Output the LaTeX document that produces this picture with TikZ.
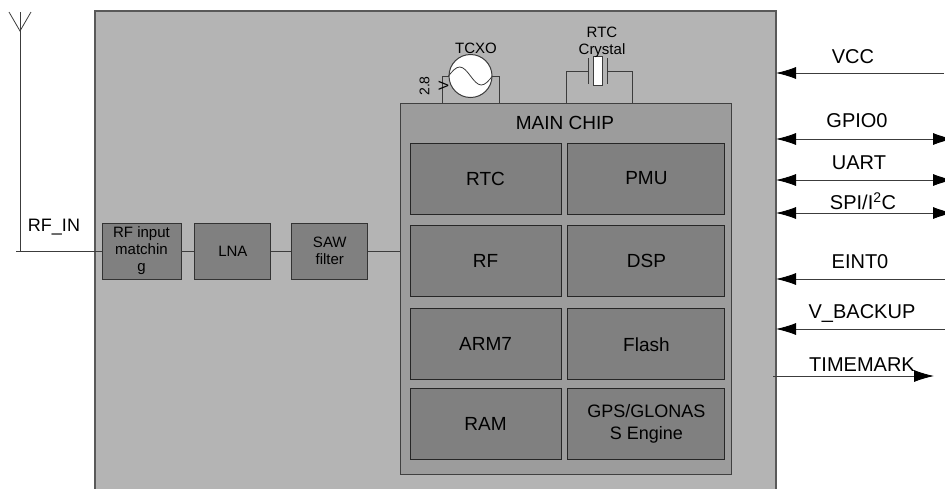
\documentclass[tikz,border=0pt]{standalone}
\usepackage{fontspec}
\setmainfont{Liberation Sans}
\usetikzlibrary{positioning,arrows.meta}

\definecolor{boardgray}{HTML}{B4B4B4}
\definecolor{chipgray}{HTML}{9C9C9C}
\definecolor{blockgray}{HTML}{808080}
\definecolor{wiregray}{HTML}{3C3C3C}

\tikzset{
    board/.style={draw=black!65, fill=boardgray, line width=1.2pt},
    chipbox/.style={draw=black!75, fill=chipgray, line width=1pt, minimum width=331pt, minimum height=371pt, inner sep=0pt},
    block/.style={draw=black!85, fill=blockgray, line width=0.9pt, minimum height=71pt, inner sep=0pt, align=center, font=\fontsize{19}{22}\selectfont},
    rfblock/.style={draw=black!80, fill=blockgray, line width=0.9pt, minimum width=76pt, minimum height=56pt, inner sep=0pt, align=center, font=\fontsize{15}{17}\selectfont},
    wire/.style={draw=wiregray, line width=0.8pt},
    pinlabel/.style={font=\fontsize{20}{22}\selectfont},
    smalllabel/.style={font=\fontsize{15}{17}\selectfont, align=center, inner sep=0pt},
    sigin/.style={wire, -{Latex[length=20pt,width=12pt,color=black]}},
    sigboth/.style={wire, {Latex[length=20pt,width=12pt,color=black]}-{Latex[length=20pt,width=12pt,color=black]}}
}

\begin{document}
\begin{tikzpicture}[x=1pt, y=-1pt]
    \useasboundingbox (0,0) rectangle (945,488);

    % module outline
    \draw[board] (95,11) rectangle (776,500);

    % antenna and RF input
    \coordinate (ant) at (20,12);
    \coordinate (rfin) at (16,251);
    \draw[wire] (9,12) -- (20,31) -- (31,12);
    \draw[wire] (ant) -- (20,251);
    \node[pinlabel, font=\fontsize{18}{20}\selectfont] (rfinlabel) at (54,227) {RF\_IN};

    \node[rfblock, minimum width=79pt] (match) at (141.5,251) {RF input\\matchin\\g};
    \node[rfblock, right = 13pt of match] (lna) {LNA};
    \node[rfblock, right = 20pt of lna] (saw) {SAW\\filter};

    % main chip
    \node[chipbox] (chip) at (565.5,288.5) {};
    \node[font=\fontsize{19}{22}\selectfont] (chiptitle) at (565,123) {MAIN CHIP};

    \node[block, minimum width=151pt] (rtc) at (485.5,178.5) {RTC};
    \node[block, minimum width=157pt, right = 6pt of rtc] (pmu) {PMU};
    \node[block, minimum width=151pt, below = 11pt of rtc] (rf) {RF};
    \node[block, minimum width=157pt, right = 6pt of rf] (dsp) {DSP};
    \node[block, minimum width=151pt, below = 11pt of rf] (arm) {ARM7};
    \node[block, minimum width=157pt, right = 6pt of arm] (flash) {Flash};
    \node[block, minimum width=151pt, below = 8pt of arm] (ram) {RAM};
    \node[block, minimum width=157pt, right = 6pt of ram, font=\fontsize{18}{22}\selectfont] (gnss) {GPS/GLONAS\\S Engine};

    \draw[wire] (rfin) -- (match.west);
    \draw[wire] (match) -- (lna);
    \draw[wire] (lna) -- (saw);
    \draw[wire] (saw.east) -- (saw.east -| chip.west);

    % TCXO
    \coordinate (tcxoL) at (442,103);
    \coordinate (tcxoR) at (499,103);
    \draw[wire] (tcxoL) -- (442,76) -- (499,76) -- (tcxoR);
    \node[circle, draw=wiregray, fill=white, line width=1pt, minimum size=43pt, inner sep=0pt] (tcxo) at (470.5,76) {};
    \draw[wire] (tcxo.west) sin (459.75,67) cos (470.5,76) sin (481.25,85) cos (tcxo.east);
    \node[smalllabel] (tcxolabel) at (476,48) {TCXO};
    \node[smalllabel, rotate=90, font=\fontsize{14}{19}\selectfont] (vlabel) at (434,86) {2.8\\V};

    % RTC crystal
    \coordinate (xtalL) at (566,103);
    \coordinate (xtalR) at (632,103);
    \draw[wire] (xtalL) -- (566,71) -- (588,71);
    \draw[wire] (607,71) -- (632,71) -- (xtalR);
    \draw[wire, line width=1pt] (588,58) -- (588,84);
    \draw[wire, line width=1pt] (607,58) -- (607,84);
    \node[draw=wiregray, fill=white, line width=0.8pt, minimum width=9pt, minimum height=29pt, inner sep=0pt] (xtal) at (597.5,70.5) {};
    \node[smalllabel] (xtallabel) at (602,42) {RTC\\Crystal};

    % pins
    \coordinate (vccR) at (944,73);
    \coordinate (gpioR) at (953,139);
    \coordinate (uartR) at (953,180);
    \coordinate (spiR) at (953,213);
    \coordinate (eintR) at (945,279);
    \coordinate (vbakR) at (945,329);
    \coordinate (tmR) at (934,376);
    \coordinate (tmL) at (773,376);

    \draw[sigin] (vccR) -- (vccR -| 776,0) coordinate (vccL);
    \draw[sigboth] (gpioR -| 776,0) coordinate (gpioL) -- (gpioR);
    \draw[sigboth] (uartR -| 776,0) coordinate (uartL) -- (uartR);
    \draw[sigboth] (spiR -| 776,0) coordinate (spiL) -- (spiR);
    \draw[sigin] (eintR) -- (eintR -| 776,0);
    \draw[sigin] (vbakR) -- (vbakR -| 776,0);
    \draw[sigin] (tmL) -- (tmR);

    \node[pinlabel] (vcc) at (853,57) {VCC};
    \node[pinlabel] (gpio) at (857,121) {GPIO0};
    \node[pinlabel] (uart) at (859,163) {UART};
    \node[pinlabel] (spi) at (863,201) {SPI/I\textsuperscript{2}C};
    \node[pinlabel] (eint) at (860,262) {EINT0};
    \node[pinlabel] (vbak) at (862,313) {V\_BACKUP};
    \node[pinlabel] (tm) at (862,365) {TIMEMARK};
\end{tikzpicture}
\end{document}
